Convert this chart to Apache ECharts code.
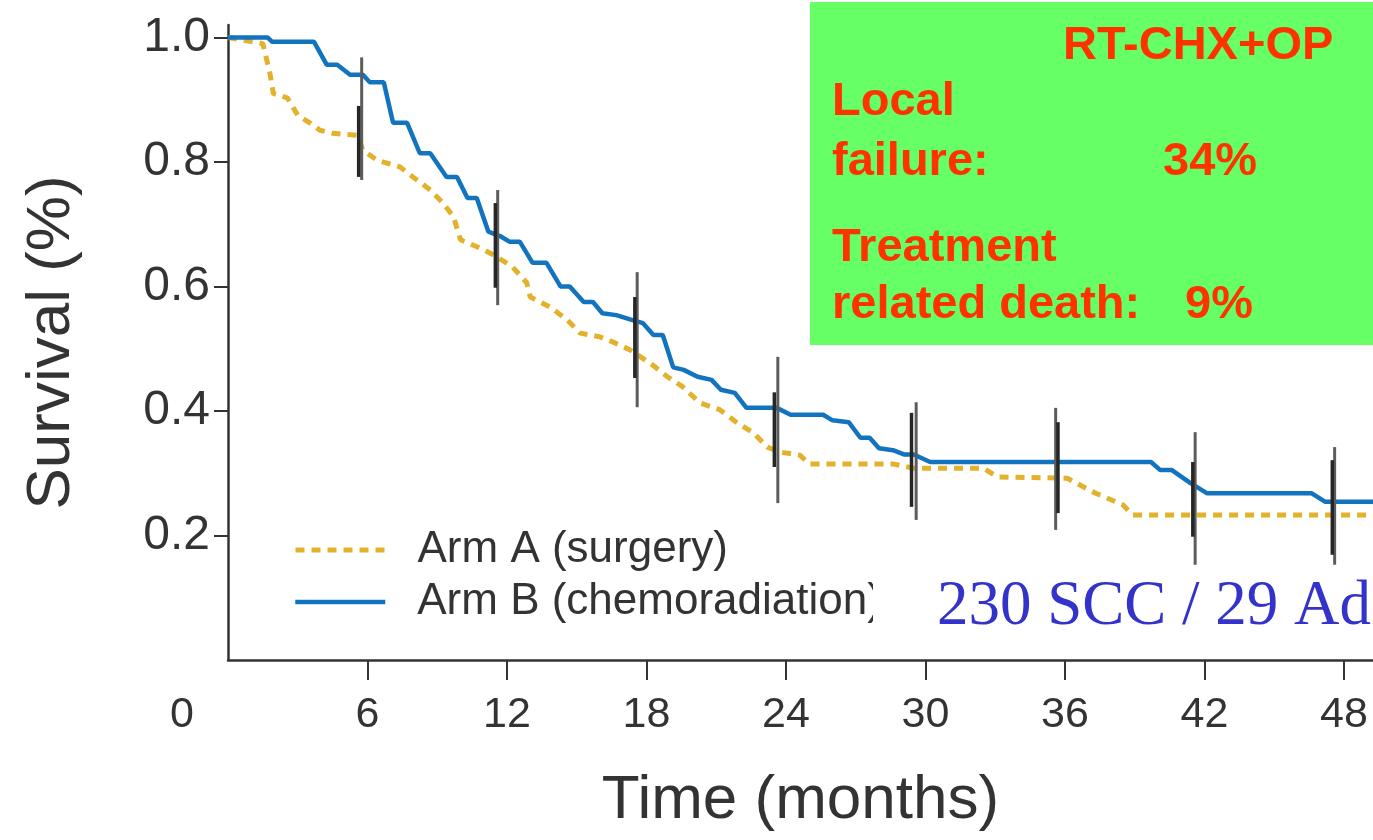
<!DOCTYPE html>
<html>
<head>
<meta charset="utf-8">
<script src="https://cdn.jsdelivr.net/npm/echarts@6/dist/echarts.min.js"></script>
<style>
  html, body { margin: 0; padding: 0; background: #ffffff; }
  #chart { width: 1373px; height: 840px; }
</style>
</head>
<body>
<div id="chart"></div>
<script>
// Axis ticks
const monthTicks = [0, 6, 12, 18, 24, 30, 36, 42, 48];
const monthTickMarks = [6, 12, 18, 24, 30, 36, 42, 48];
const survivalTicks = [0.2, 0.4, 0.6, 0.8, 1.0];

// Series names
const armAName = 'Arm A (surgery)';
const armBName = 'Arm B (chemoradiation)';

// Survival curves: [month, survival]
const armA = [
  [0, 1.0], [1.5, 0.99], [1.8, 0.943], [1.95, 0.91], [2.55, 0.903], [3.0, 0.875],
  [3.55, 0.862], [3.95, 0.851], [4.5, 0.846], [5.55, 0.843], [5.8, 0.819], [6.4, 0.803],
  [7.4, 0.792], [7.95, 0.776], [8.7, 0.755], [9.25, 0.734], [9.7, 0.712], [10.0, 0.675],
  [11.0, 0.659], [11.55, 0.648], [12.25, 0.631], [12.85, 0.606], [13.0, 0.583], [13.85, 0.567],
  [14.6, 0.546], [15.15, 0.525], [16.0, 0.519], [16.55, 0.511], [17.3, 0.498], [18.15, 0.477],
  [18.9, 0.455], [19.55, 0.439], [20.3, 0.413], [21.15, 0.402], [21.9, 0.381], [22.6, 0.365],
  [23.2, 0.342], [23.75, 0.334], [24.6, 0.329], [25.0, 0.315], [28.6, 0.315], [29.5, 0.308],
  [32.5, 0.308], [33.1, 0.294], [36.1, 0.292], [37.2, 0.27], [38.5, 0.249], [38.9, 0.233],
  [49.25, 0.233]
];

const armB = [
  [0, 1.0], [1.7, 1.0], [1.9, 0.993], [3.7, 0.993], [4.25, 0.956], [4.7, 0.956],
  [5.25, 0.94], [5.8, 0.94], [6.1, 0.928], [6.7, 0.928], [7.1, 0.863], [7.7, 0.863],
  [8.25, 0.814], [8.7, 0.814], [9.4, 0.776], [9.85, 0.776], [10.3, 0.742], [10.7, 0.742],
  [11.2, 0.688], [11.7, 0.681], [12.1, 0.672], [12.55, 0.672], [13.1, 0.638], [13.7, 0.638],
  [14.3, 0.6], [14.7, 0.6], [15.3, 0.575], [15.7, 0.575], [16.1, 0.557], [16.7, 0.554],
  [17.4, 0.546], [17.85, 0.541], [18.3, 0.522], [18.7, 0.522], [19.15, 0.47], [19.6, 0.466],
  [20.2, 0.455], [20.8, 0.45], [21.2, 0.434], [21.8, 0.429], [22.3, 0.405], [23.6, 0.405],
  [24.2, 0.394], [25.6, 0.394], [26.0, 0.385], [26.7, 0.382], [27.2, 0.357], [27.6, 0.357],
  [28.0, 0.34], [28.6, 0.337], [29.1, 0.33], [29.5, 0.33], [30.2, 0.318], [39.7, 0.318],
  [40.1, 0.305], [40.6, 0.305], [41.4, 0.284], [42.1, 0.268], [46.6, 0.268], [47.2, 0.254],
  [49.25, 0.254]
];

// Confidence interval bars: [month, lower, upper]
const ciOuter = [
  [5.75, 0.771, 0.968], [11.6, 0.570, 0.755], [17.6, 0.406, 0.623], [23.65, 0.252, 0.487],
  [29.6, 0.225, 0.414], [35.6, 0.209, 0.405], [41.6, 0.153, 0.366], [47.6, 0.153, 0.342]
];
const ciInner = [
  [5.62, 0.776, 0.89], [11.5, 0.598, 0.734], [17.5, 0.453, 0.583], [23.5, 0.31, 0.43],
  [29.4, 0.246, 0.397], [35.7, 0.236, 0.382], [41.5, 0.198, 0.318], [47.5, 0.169, 0.321]
];

const sansFont = '"Liberation Sans", Arial, Helvetica, sans-serif';
const axisColor = '#333333';
const textColor = '#333333';
const blue = '#1273bf';
const gold = '#e2b22c';
const red = '#ff3300';

function ciRenderer(color, width) {
  return function (params, api) {
    const p1 = api.coord([api.value(0), api.value(1)]);
    const p2 = api.coord([api.value(0), api.value(2)]);
    return {
      type: 'line',
      shape: { x1: p1[0], y1: p1[1], x2: p2[0], y2: p2[1] },
      style: { stroke: color, lineWidth: width }
    };
  };
}

function legendFor(name, top, lineWidth) {
  return {
    data: [name], left: 288, top: top, orient: 'vertical',
    itemWidth: 90, itemHeight: 20, selectedMode: false,
    itemStyle: { opacity: 0 },
    lineStyle: { width: lineWidth },
    textStyle: { fontSize: 44, fontFamily: sansFont, color: textColor, lineHeight: 46, padding: [0, 0, 0, 27] }
  };
}

const chart = echarts.init(document.getElementById('chart'), null, { renderer: 'canvas' });

chart.setOption({
  backgroundColor: '#ffffff',
  animation: false,
  grid: { left: 228, right: 0, top: 25, bottom: 180 },
  legend: [
    legendFor(armAName, 522, 5),
    legendFor(armBName, 574, 4.5)
  ],
  xAxis: {
    type: 'value', min: 0, max: 49.25, interval: 6,
    name: 'Time (months)', nameLocation: 'middle', nameGap: 110,
    nameTextStyle: { fontSize: 62, fontFamily: sansFont, color: textColor },
    axisLine: { show: true, lineStyle: { color: axisColor, width: 2.5 } },
    axisTick: { show: true, customValues: monthTickMarks, length: 20, lineStyle: { color: axisColor, width: 2 } },
    axisLabel: {
      customValues: monthTicks, margin: 34,
      fontSize: 43, fontFamily: sansFont, color: textColor,
      formatter: function (v) { return v === 0 ? '{z|0}' : String(v); },
      rich: { z: { padding: [0, 92, 0, 0], fontSize: 43, fontFamily: sansFont, color: textColor } }
    },
    splitLine: { show: false }
  },
  yAxis: {
    type: 'value', min: 0, max: 1.02, interval: 0.2,
    name: 'Survival (%)', nameLocation: 'middle', nameGap: 145, nameRotate: 90,
    nameTextStyle: { fontSize: 62, fontFamily: sansFont, color: textColor },
    axisLine: { show: true, lineStyle: { color: axisColor, width: 2.5 } },
    axisTick: { show: true, customValues: survivalTicks, length: 14, lineStyle: { color: axisColor, width: 2 } },
    axisLabel: {
      customValues: survivalTicks, margin: 18,
      fontSize: 48, fontFamily: sansFont, color: textColor,
      formatter: function (v) { return v.toFixed(1); }
    },
    splitLine: { show: false }
  },
  series: [
    {
      name: armAName, type: 'line', data: armA, symbol: 'none', z: 3,
      lineStyle: { color: gold, width: 5, type: [9, 7], cap: 'butt' },
      itemStyle: { color: gold }
    },
    {
      name: armBName, type: 'line', data: armB, symbol: 'none', z: 4,
      lineStyle: { color: blue, width: 4.5 },
      itemStyle: { color: blue }
    },
    {
      name: 'ciOuter', type: 'custom', data: ciOuter, z: 5,
      renderItem: ciRenderer('#5c5c5c', 3), encode: { x: 0, y: [1, 2] }
    },
    {
      name: 'ciInner', type: 'custom', data: ciInner, z: 6,
      renderItem: ciRenderer('#262626', 3.5), encode: { x: 0, y: [1, 2] }
    }
  ],
  graphic: [
    { type: 'rect', z: 50, shape: { x: 810, y: 2, width: 563, height: 343 }, style: { fill: '#66ff66' } },
    { type: 'text', z: 51, x: 1063, y: 46, style: { text: 'RT-CHX+OP', font: 'bold 47px ' + sansFont, fill: red, verticalAlign: 'middle' } },
    { type: 'text', z: 51, x: 832, y: 102, style: { text: 'Local', font: 'bold 47px ' + sansFont, fill: red, verticalAlign: 'middle' } },
    { type: 'text', z: 51, x: 832, y: 162, style: { text: 'failure:', font: 'bold 47px ' + sansFont, fill: red, verticalAlign: 'middle' } },
    { type: 'text', z: 51, x: 1163, y: 162, style: { text: '34%', font: 'bold 47px ' + sansFont, fill: red, verticalAlign: 'middle' } },
    { type: 'text', z: 51, x: 832, y: 248, style: { text: 'Treatment', font: 'bold 47px ' + sansFont, fill: red, verticalAlign: 'middle' } },
    { type: 'text', z: 51, x: 832, y: 305, style: { text: 'related death:', font: 'bold 47px ' + sansFont, fill: red, verticalAlign: 'middle' } },
    { type: 'text', z: 51, x: 1185, y: 305, style: { text: '9%', font: 'bold 47px ' + sansFont, fill: red, verticalAlign: 'middle' } },
    { type: 'rect', z: 50, shape: { x: 873, y: 572, width: 500, height: 72 }, style: { fill: '#ffffff' } },
    { type: 'text', z: 51, x: 937, y: 607, style: { text: '230 SCC / 29 Ad', font: '63px "Liberation Serif", "Times New Roman", serif', fill: '#3333cc', verticalAlign: 'middle' } }
  ]
});
</script>
</body>
</html>
